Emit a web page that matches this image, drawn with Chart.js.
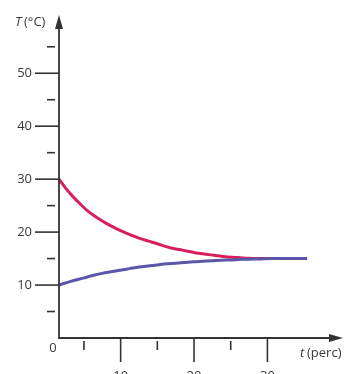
<!DOCTYPE html>
<html>
<head>
<meta charset="utf-8">
<script src="https://cdn.jsdelivr.net/npm/chart.js@4"></script>
<style>
  html, body { margin: 0; padding: 0; background: #ffffff; }
  #wrap { width: 344px; height: 374px; position: relative; }
</style>
</head>
<body>
<div id="wrap"><canvas id="tempChart"></canvas></div>
<script>
// Cooling curve (starts at 30 °C) and warming curve (starts at 10 °C)
const coolTime = [1.6, 2.5, 3.5, 4.5, 5.5, 6.8, 8.1, 9.2, 10.3, 11.5, 12.6, 13.8, 15.0, 16.1, 17.2, 18.4, 19.5, 20.6, 21.7, 22.9, 24.0, 25.2, 26.3, 27.4, 28.5, 31.0, 35.4];
const coolTemp = [30.0, 28.3, 26.7, 25.3, 24.0, 22.7, 21.6, 20.8, 20.1, 19.4, 18.8, 18.3, 17.8, 17.3, 16.9, 16.6, 16.3, 16.0, 15.8, 15.6, 15.4, 15.25, 15.15, 15.05, 15.0, 15.0, 15.0];
const warmTime = [1.6, 3.2, 4.9, 6.2, 7.5, 8.7, 9.9, 11.2, 12.5, 13.7, 15.0, 16.2, 17.5, 18.7, 19.9, 21.2, 22.5, 23.7, 24.9, 26.5, 28.0, 31.0, 35.4];
const warmTemp = [10.0, 10.7, 11.3, 11.8, 12.2, 12.5, 12.8, 13.1, 13.4, 13.6, 13.8, 14.0, 14.1, 14.25, 14.4, 14.5, 14.6, 14.7, 14.75, 14.85, 14.9, 15.0, 15.0];

// Axis ticks
const xMajorTicks = [10, 20, 30];
const xMinorTicks = [5, 15, 25];
const yMajorTicks = [10, 20, 30, 40, 50];
const yMinorTicks = [5, 15, 25, 35, 45, 55];

const AXIS_COLOR = '#333333';
const TEXT_COLOR = '#3a3a3a';
const FONT = '"Open Sans", "DejaVu Sans", sans-serif';

function toPoints(xs, ys) {
    return xs.map((x, i) => ({ x: x, y: ys[i] }));
}

// Draws the hand-made axes: arrows, long/short ticks, labels
const schematicAxes = {
    id: 'schematicAxes',
    afterDatasetsDraw(chart) {
        const ctx = chart.ctx;
        const xs = chart.scales.x;
        const ys = chart.scales.y;
        const x0 = xs.getPixelForValue(xs.min);
        const y0 = ys.getPixelForValue(0);
        const xEnd = xs.getPixelForValue(xs.max);
        const yTop = ys.getPixelForValue(ys.max);

        ctx.save();
        ctx.strokeStyle = AXIS_COLOR;
        ctx.fillStyle = AXIS_COLOR;
        ctx.lineWidth = 1.8;

        // axis lines
        ctx.beginPath();
        ctx.moveTo(x0, yTop + 8);
        ctx.lineTo(x0, y0);
        ctx.lineTo(xEnd - 8, y0);
        ctx.stroke();

        // arrow heads
        ctx.beginPath();
        ctx.moveTo(x0, yTop);
        ctx.lineTo(x0 - 4, yTop + 14);
        ctx.lineTo(x0 + 4, yTop + 14);
        ctx.closePath();
        ctx.fill();
        ctx.beginPath();
        ctx.moveTo(xEnd, y0);
        ctx.lineTo(xEnd - 14, y0 - 4);
        ctx.lineTo(xEnd - 14, y0 + 4);
        ctx.closePath();
        ctx.fill();

        // y ticks
        ctx.lineWidth = 1.6;
        yMajorTicks.forEach(v => {
            const py = ys.getPixelForValue(v);
            ctx.beginPath();
            ctx.moveTo(x0 - 24, py);
            ctx.lineTo(x0, py);
            ctx.stroke();
        });
        yMinorTicks.forEach(v => {
            const py = ys.getPixelForValue(v);
            ctx.beginPath();
            ctx.moveTo(x0 - 12, py);
            ctx.lineTo(x0 - 4, py);
            ctx.stroke();
        });

        // x ticks
        xMajorTicks.forEach(v => {
            const px = xs.getPixelForValue(v);
            ctx.beginPath();
            ctx.moveTo(px, y0);
            ctx.lineTo(px, y0 + 24);
            ctx.stroke();
        });
        xMinorTicks.forEach(v => {
            const px = xs.getPixelForValue(v);
            ctx.beginPath();
            ctx.moveTo(px, y0 + 3);
            ctx.lineTo(px, y0 + 12);
            ctx.stroke();
        });

        // labels
        ctx.fillStyle = TEXT_COLOR;
        ctx.font = '13px ' + FONT;
        ctx.textAlign = 'right';
        ctx.textBaseline = 'middle';
        yMajorTicks.forEach(v => {
            ctx.fillText(String(v), x0 - 27, ys.getPixelForValue(v));
        });
        ctx.textAlign = 'center';
        ctx.textBaseline = 'top';
        xMajorTicks.forEach(v => {
            ctx.fillText(String(v), xs.getPixelForValue(v), y0 + 32);
        });
        ctx.textBaseline = 'middle';
        ctx.fillText('0', x0 - 6, y0 + 10);

        // axis titles
        ctx.textAlign = 'left';
        ctx.font = 'italic 13px ' + FONT;
        ctx.fillText('T', 15, 22);
        ctx.font = '13px ' + FONT;
        ctx.fillText('(°C)', 24, 22);
        ctx.font = 'italic 13px ' + FONT;
        ctx.fillText('t', 300, 353);
        ctx.font = '13px ' + FONT;
        ctx.fillText('(perc)', 307, 353);
        ctx.restore();
    }
};

new Chart(document.getElementById('tempChart'), {
    type: 'scatter',
    data: {
        datasets: [
            {
                label: 'warming',
                data: toPoints(warmTime, warmTemp),
                showLine: true,
                borderColor: '#5a56a8',
                borderWidth: 3,
                pointRadius: 0,
                cubicInterpolationMode: 'monotone',
                clip: false,
                order: 0
            },
            {
                label: 'cooling',
                data: toPoints(coolTime, coolTemp),
                showLine: true,
                borderColor: '#d81f5c',
                borderWidth: 3,
                pointRadius: 0,
                cubicInterpolationMode: 'monotone',
                clip: false,
                order: 1
            }
        ]
    },
    options: {
        responsive: true,
        maintainAspectRatio: false,
        animation: false,
        layout: { padding: { left: 59, right: 1, top: 15, bottom: 36 } },
        scales: {
            x: { type: 'linear', min: 1.6, max: 40.3, display: false },
            y: { type: 'linear', min: 0, max: 61, display: false }
        },
        plugins: {
            legend: { display: false },
            tooltip: { enabled: false }
        }
    },
    plugins: [schematicAxes]
});
</script>
</body>
</html>
